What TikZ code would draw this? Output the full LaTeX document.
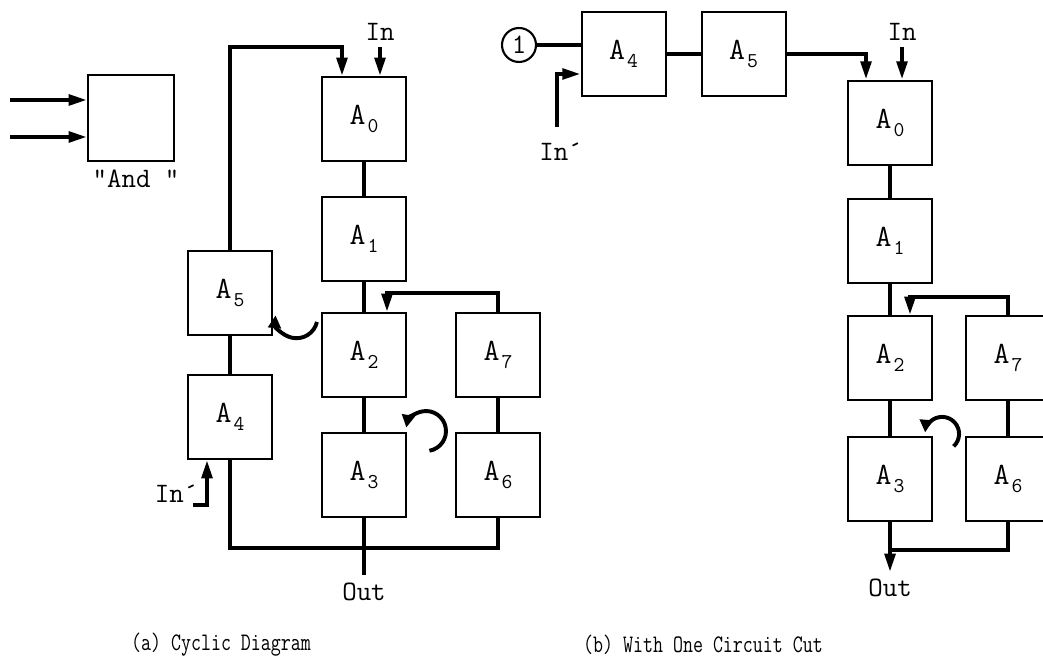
\documentclass[tikz,border=0pt]{standalone}
\usepackage{fontspec}
\usepackage{graphicx}
\usetikzlibrary{calc,arrows.meta,positioning}
\newcommand{\blocklabel}[1]{A\kern1.5pt\raisebox{-0.6ex}{\fontsize{15}{15}\selectfont #1}}
\newcommand{\tallcaption}[1]{\scalebox{1}[1.3]{#1}}

\tikzset{
  block/.style={draw, line width=1.5pt, minimum width=2.1cm, minimum height=2.1cm,
    inner sep=0pt, font=\ttfamily\fontsize{22}{22}\selectfont},
  wire/.style={line width=2.8pt},
  feed/.style={wire, -{Triangle[length=13pt,width=7.5pt]}},
  turn/.style={line width=2.8pt, -{Triangle[length=9pt,width=9pt]}},
  tag/.style={font=\ttfamily\fontsize{20}{20}\selectfont, inner sep=1pt},
  cutmark/.style={draw, circle, line width=1.5pt, minimum size=0.85cm, inner sep=0pt,
    font=\ttfamily\fontsize{20}{20}\selectfont},
  caption/.style={font=\ttfamily\fontsize{13.8}{13.8}\selectfont},
}

\begin{document}
\begin{tikzpicture}[x=1cm,y=1cm]
    \useasboundingbox (0,0) rectangle (26.075,16.725);

    % Left panel
    \begin{scope}[shift={(0,0)}]
        \node[block, minimum size=2.15cm] (gate) at (3.275,13.775) {};
        \node[tag] (gatetag) at (3.4,12.25) {"And "};
        \coordinate (gatein1) at (0.25,14.225);
        \coordinate (gatein2) at (0.25,13.3);
        \draw[feed] (gatein1) -- (gatein1 -| gate.west);
        \draw[feed] (gatein2) -- (gatein2 -| gate.west);

        \node[block] (a0) at (9.1,13.75) {\blocklabel{0}};
        \node[block] (a1) at (9.1,10.75) {\blocklabel{1}};
        \node[block] (a2) at (9.1,7.85) {\blocklabel{2}};
        \node[block] (a3) at (9.1,4.85) {\blocklabel{3}};
        \node[block] (a5) at (5.75,9.4) {\blocklabel{5}};
        \node[block] (a4) at (5.75,6.3) {\blocklabel{4}};
        \node[block] (a7) at (12.45,7.85) {\blocklabel{7}};
        \node[block] (a6) at (12.45,4.85) {\blocklabel{6}};

        \draw[wire] (a0.south) -- (a1.north);
        \draw[wire] (a1.south) -- (a2.north);
        \draw[wire] (a2.south) -- (a3.north);
        \draw[wire] (a5.south) -- (a4.north);
        \draw[wire] (a7.south) -- (a6.north);

        \coordinate (loopa) at (8.55,15.55);
        \draw[feed] (a5.north) |- (loopa) -- (loopa |- a0.north);
        \coordinate (inatip) at (9.5,15.55);
        \node[tag, above=0.12cm of inatip] (ina) {In};
        \draw[feed] (inatip) -- (inatip |- a0.north);

        \coordinate (fba) at (9.675,9.4);
        \draw[feed] (a7.north) |- (fba) -- (fba |- a2.north);

        \coordinate (busa) at (9.1,3.025);
        \coordinate (outa) at (9.1,2.35);
        \draw[wire] (a4.south) |- (busa) -| (a6.south);
        \draw[wire] (a3.south) -- (outa);
        \node[tag, below=0.15cm of outa] (outatag) {Out};

        \coordinate (inpa) at (4.825,4.1);
        \coordinate (inpacorner) at (5.175,4.1);
        \node[tag, anchor=base east] (inpatag) at (5.0,4.15) {In´};
        \draw[feed] (inpa) -- (inpacorner) -- (inpacorner |- a4.south);

        \draw[turn] ($(a2.north west)+(-0.1,-0.25)$) arc[start angle=-13, end angle=-185, radius=0.525];
        \draw[turn] ($(a3.north east)+(0.56,-0.47)$) arc[start angle=-80, end angle=170, radius=0.5];

        \node[caption] (capa) at (5.525,0.6) {\tallcaption{(a) Cyclic Diagram}};
    \end{scope}

    % Right panel
    \begin{scope}[shift={(13.15,0)}]
        \node[cutmark] (cut) at (-0.175,15.6) {1};
        \node[block] (b4) at (2.44,15.38) {\blocklabel{4}};
        \node[block] (b5) at (5.44,15.38) {\blocklabel{5}};
        \node[block] (b0) at (9.1,13.66) {\blocklabel{0}};
        \node[block] (b1) at (9.1,10.7) {\blocklabel{1}};
        \node[block] (b2) at (9.1,7.775) {\blocklabel{2}};
        \node[block] (b3) at (9.1,4.75) {\blocklabel{3}};
        \node[block] (b7) at (12.05,7.775) {\blocklabel{7}};
        \node[block] (b6) at (12.05,4.75) {\blocklabel{6}};

        \draw[wire] (cut.east) -- (cut.east -| b4.west);
        \draw[wire] (b4.east) -- (b5.west);
        \draw[feed] (b5.east) -| ($(b0.north)+(-0.6,0)$);

        \coordinate (inpb) at (0.775,13.54);
        \coordinate (inpbcorner) at (0.775,14.875);
        \draw[feed] (inpb) -- (inpbcorner) -- (inpbcorner -| b4.west);
        \node[tag, below=0.35cm of inpb, xshift=0.1cm] (inpbtag) {In´};

        \coordinate (inbtip) at (9.4,15.55);
        \node[tag, above=0.12cm of inbtip] (inb) {In};
        \draw[feed] (inbtip) -- (inbtip |- b0.north);

        \draw[wire] (b0.south) -- (b1.north);
        \draw[wire] (b1.south) -- (b2.north);
        \draw[wire] (b2.south) -- (b3.north);
        \draw[wire] (b7.south) -- (b6.north);

        \coordinate (fbb) at (9.6,9.3);
        \draw[feed] (b7.north) |- (fbb) -- (fbb |- b2.north);

        \coordinate (busb) at (9.1,2.975);
        \coordinate (outb) at (9.1,2.425);
        \draw[wire] (b6.south) |- (busb);
        \draw[feed] (b3.south) -- (outb);
        \node[tag, below=0.12cm of outb] (outbtag) {Out};

        \draw[turn] ($(b3.north east)+(0.515,-0.26)$) arc[start angle=-47, end angle=175, radius=0.425];

        \node[caption] (capb) at (4.425,0.6) {\tallcaption{(b) With One Circuit Cut}};
    \end{scope}

\end{tikzpicture}
\end{document}
